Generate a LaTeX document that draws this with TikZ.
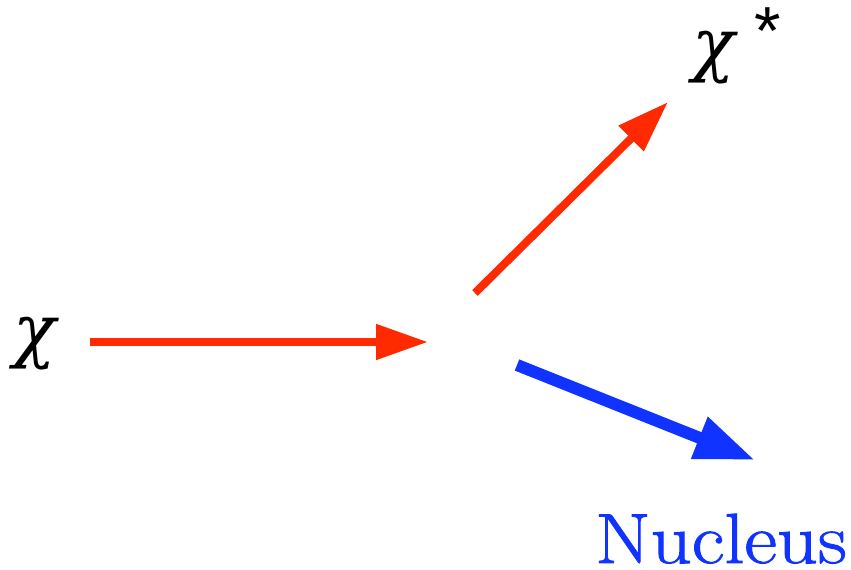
\documentclass[tikz,border=0pt]{standalone}
\usepackage{fontspec}
\newfontfamily\grecfont{DejaVu Serif}
\newfontfamily\etoilefont{Liberation Sans}
\newfontfamily\noyaufont[FakeBold=1.3,FakeStretch=1.13]{Latin Modern Roman}
\usetikzlibrary{arrows.meta}
\definecolor{rouge}{RGB}{255,42,0}
\definecolor{bleu}{RGB}{16,51,255}
\begin{document}
\begin{tikzpicture}[
    x=1pt, y=-1pt,  % Une unité = un pixel, y vers le bas
    particule/.style={font=\fontsize{70}{70}\selectfont\grecfont\itshape, inner sep=0pt},
    noyau/.style={font=\noyaufont\fontsize{71}{80}\selectfont, text=bleu, inner sep=0pt},
    fleche rouge/.style={draw=rouge, line width=8pt, -{Triangle[length=52pt,width=34pt]}},
    fleche bleue/.style={draw=bleu, line width=12pt, -{Triangle[length=60pt,width=42pt]}}
]
\useasboundingbox (0,0) rectangle (851,570);
% Particules
\node[particule] (chi) at (35,344) {χ};
\node[particule, anchor=base west] (chietoile) at (692,68)
    {χ\kern20pt\smash{\raisebox{14pt}{\etoilefont\upshape\fontsize{68}{68}\selectfont *}}};
\node[noyau, anchor=base east] (nucleus) at (847,563) {Nucleus};
% Extrémités des flèches
\coordinate (entree) at (90,342);
\coordinate (choc) at (428,342);
\coordinate (depart) at (475,293);
\coordinate (sortie) at (668,102);
\coordinate (recul) at (517,365);
\coordinate (arrivee) at (755,460);
% Flèches
\draw[fleche rouge] (entree) -- (choc);
\draw[fleche rouge] (depart) -- (sortie);
\draw[fleche bleue] (recul) -- (arrivee);
\end{tikzpicture}
\end{document}
